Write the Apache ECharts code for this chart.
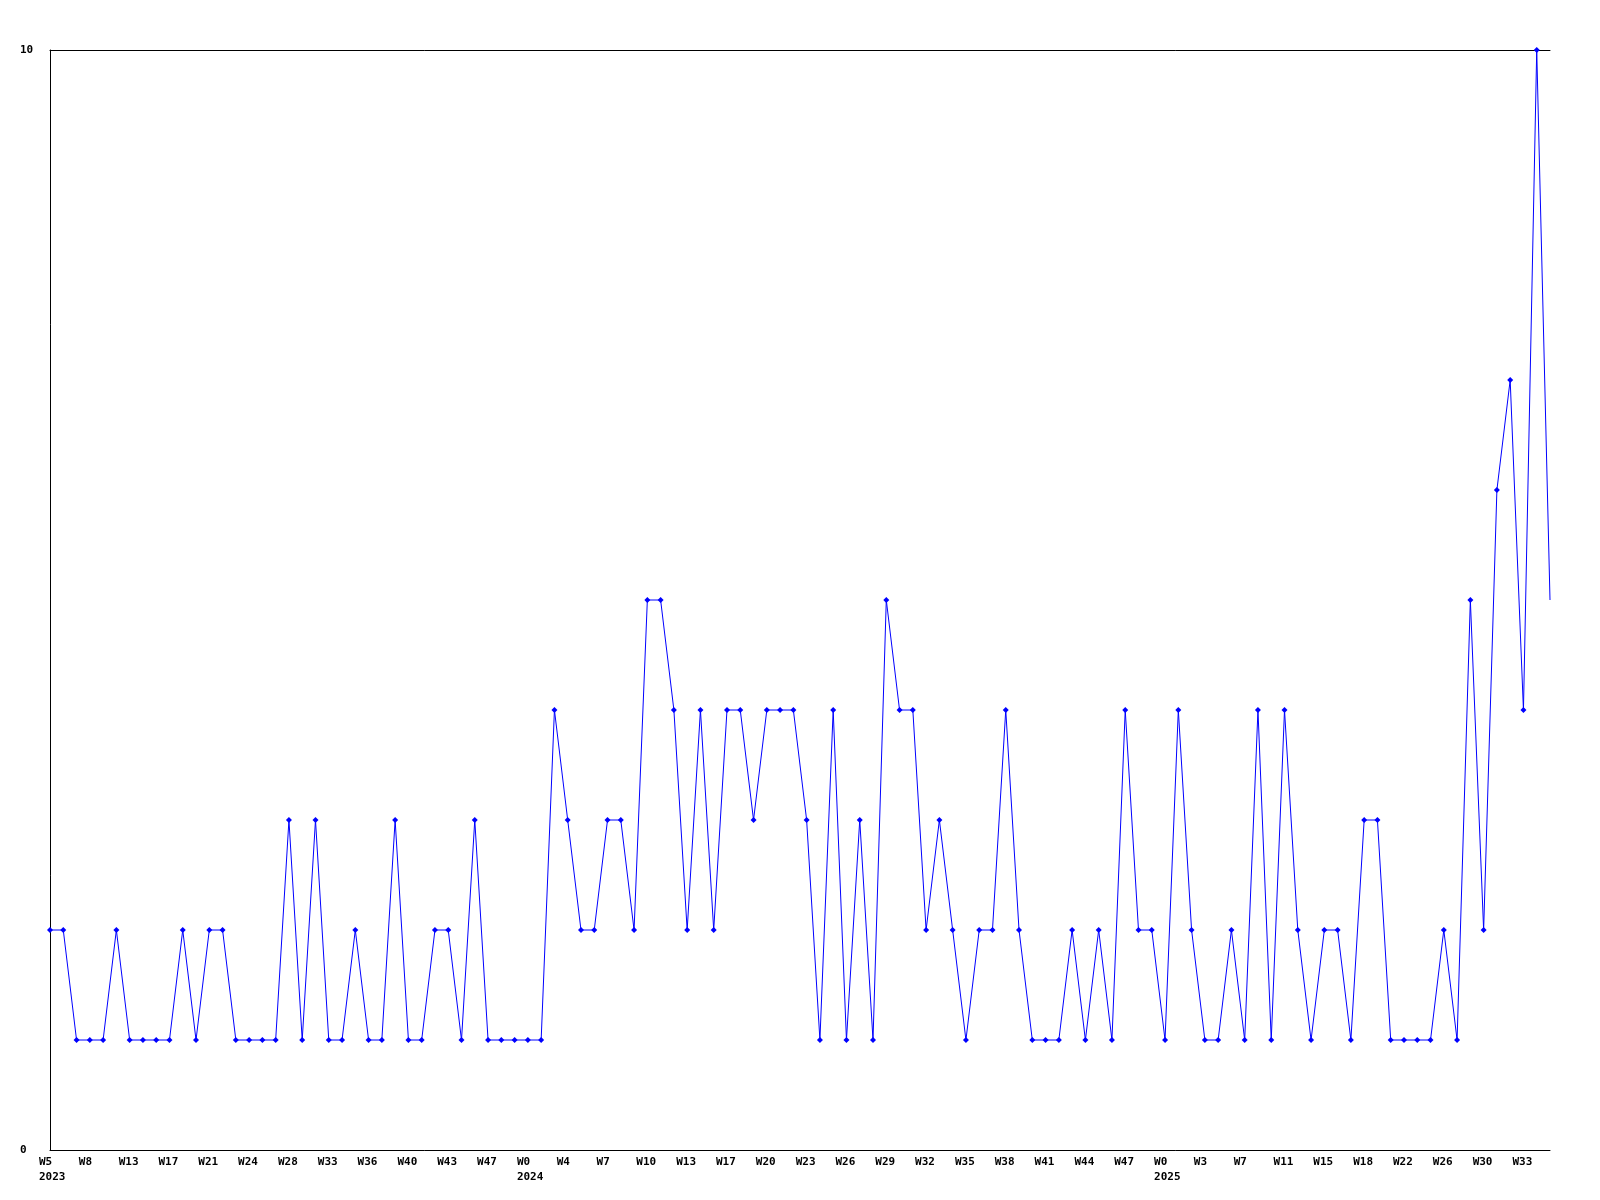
<!DOCTYPE html>
<html>
<head>
<meta charset="utf-8">
<script src="https://cdn.jsdelivr.net/npm/echarts@6/dist/echarts.min.js"></script>
<style>html,body{margin:0;padding:0;background:#fff;}#c{width:1600px;height:1200px;}</style>
</head>
<body>
<div id="c"></div>
<script>
// Weekly values, 114 points
const values = [
  2,2,1,1,1,2,1,1,1,1,2,1,2,2,1,1,1,1,3,1,3,1,1,2,1,1,3,1,1,2,2,1,3,1,1,1,1,1,
  4,3,2,2,3,3,2,5,5,4,2,4,2,4,4,3,4,4,4,3,1,4,1,3,1,5,4,4,2,3,2,1,2,2,4,2,1,
  1,1,2,1,2,1,4,2,2,1,4,2,1,1,2,1,4,1,4,2,1,2,2,1,3,3,1,1,1,1,2,1,5,2,6,7,4,10,5
];
// Tick labels, one every 3 points (week, optional year)
const tickLabels = [
  ['W5','2023'],['W8'],['W13'],['W17'],['W21'],['W24'],['W28'],['W33'],['W36'],['W40'],['W43'],['W47'],
  ['W0','2024'],['W4'],['W7'],['W10'],['W13'],['W17'],['W20'],['W23'],['W26'],['W29'],['W32'],['W35'],['W38'],['W41'],['W44'],['W47'],
  ['W0','2025'],['W3'],['W7'],['W11'],['W15'],['W18'],['W22'],['W26'],['W30'],['W33']
];
const tickEvery = 3;
const yTicks = [0, 10];

const categories = values.map((v, i) => {
  if (i % tickEvery === 0 && tickLabels[i / tickEvery]) return tickLabels[i / tickEvery].join('\n');
  return '';
});

const font = '"DejaVu Sans Mono", "Liberation Mono", monospace';
const chart = echarts.init(document.getElementById('c'), null, {renderer: 'canvas'});
chart.setOption({
  animation: false,
  backgroundColor: '#ffffff',
  grid: {left: 50, right: 50, top: 50, bottom: 50, containLabel: false},
  xAxis: [{
    type: 'category',
    data: categories,
    boundaryGap: false,
    axisLine: {show: true, lineStyle: {color: '#000', width: 1}},
    axisTick: {show: false},
    splitLine: {show: false},
    axisLabel: {
      interval: 0,
      margin: 5,
      align: 'right',
      formatter: (val) => {
        if (!val) return '';
        return val.split('\n').map(s => '{a|' + s + '}').join('\n');
      },
      rich: {
        a: {width: 11, align: 'left', fontFamily: font, fontWeight: 'bold', fontSize: 11, color: '#000', lineHeight: 15}
      }
    }
  }, {
    type: 'category',
    position: 'top',
    data: categories,
    boundaryGap: false,
    axisLine: {show: true, lineStyle: {color: '#000', width: 1}},
    axisTick: {show: false},
    axisLabel: {show: false},
    splitLine: {show: false}
  }],
  yAxis: {
    type: 'value',
    min: yTicks[0],
    max: yTicks[yTicks.length - 1],
    interval: yTicks[1] - yTicks[0],
    axisLine: {show: true, lineStyle: {color: '#000', width: 1}},
    axisTick: {show: false},
    splitLine: {show: false},
    axisLabel: {
      align: 'left',
      margin: 30,
      fontFamily: font,
      fontWeight: 'bold',
      fontSize: 11,
      color: '#000'
    }
  },
  series: [{
    type: 'line',
    data: values.map((v, i) => i === values.length - 1 ? {value: v, symbol: 'none'} : v),
    symbol: 'diamond',
    symbolSize: 6,
    showAllSymbol: true,
    lineStyle: {color: '#0000ff', width: 1},
    itemStyle: {color: '#0000ff'},
    clip: true
  }]
});
</script>
</body>
</html>
